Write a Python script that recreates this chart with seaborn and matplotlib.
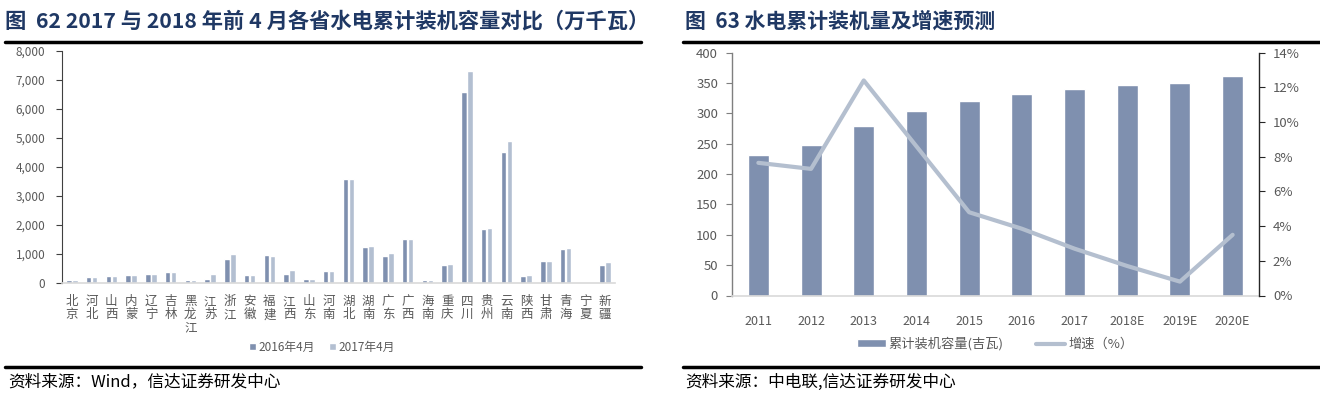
import numpy as np
import pandas as pd
import seaborn as sns
import matplotlib.pyplot as plt
from matplotlib.patches import Patch
from matplotlib.lines import Line2D
from matplotlib.ticker import FuncFormatter, PercentFormatter

sns.set_theme(style="white")
plt.rcParams['font.family'] = ['Noto Sans CJK SC', 'DejaVu Sans']

# ---- data: left panel ----
provinces = ['北京', '河北', '山西', '内蒙', '辽宁', '吉林', '黑龙江', '江苏', '浙江', '安徽',
             '福建', '江西', '山东', '河南', '湖北', '湖南', '广东', '广西', '海南', '重庆',
             '四川', '贵州', '云南', '陕西', '甘肃', '青海', '宁夏', '新疆']
cap_2016 = [100, 180, 240, 260, 290, 380, 100, 120, 810, 260,
            950, 310, 110, 400, 3580, 1240, 910, 1500, 70, 620,
            6580, 1860, 4520, 220, 750, 1150, 30, 620]
cap_2017 = [100, 180, 240, 260, 290, 380, 100, 290, 980, 260,
            920, 430, 110, 400, 3580, 1270, 1020, 1500, 100, 640,
            7310, 1900, 4890, 270, 760, 1190, 30, 700]
series_left = ['2016年4月', '2017年4月']

# ---- data: right panel ----
years = ['2011', '2012', '2013', '2014', '2015', '2016', '2017', '2018E', '2019E', '2020E']
capacity = [231, 248, 280, 304, 320, 332, 340, 347, 350, 362]
growth = [7.65, 7.3, 12.4, 8.6, 4.8, 3.85, 2.7, 1.7, 0.8, 3.5]

c_dark = '#7F90AF'
c_light = '#B3BFD1'
c_line = '#B4BFCF'
c_title = '#1F3864'
c_tick = '#595959'

fig = plt.figure(figsize=(13.2, 3.94), dpi=100)
W, H = 1320, 394


def px_axes(x0, y0, x1, y1):
    return fig.add_axes([x0 / W, 1 - y1 / H, (x1 - x0) / W, (y1 - y0) / H])


# ---------- left chart ----------
df_left = pd.DataFrame({
    '省份': provinces * 2,
    '容量': cap_2016 + cap_2017,
    '时间': [series_left[0]] * len(provinces) + [series_left[1]] * len(provinces),
})
ax1 = px_axes(62, 51, 615, 282.5)
sns.barplot(data=df_left, x='省份', y='容量', hue='时间', palette=[c_dark, c_light],
            saturation=1, width=0.62, gap=0.12, ax=ax1, legend=False)
ax1.set_xlim(-0.5, 27.5)
ax1.set_ylim(0, 8000)
ax1.set_yticks(range(0, 8001, 1000))
ax1.yaxis.set_major_formatter(FuncFormatter(lambda v, p: f'{int(v):,}'))
ax1.set_xticks(range(len(provinces)))
ax1.set_xticklabels(['\n'.join(p) for p in provinces], linespacing=1.02)
ax1.set_xlabel('')
ax1.set_ylabel('')
for s in ['top', 'right']:
    ax1.spines[s].set_visible(False)
ax1.spines['left'].set_color('#404040')
ax1.spines['left'].set_linewidth(0.8)
ax1.spines['bottom'].set_color('#D9D9D9')
ax1.spines['bottom'].set_linewidth(1.2)
ax1.tick_params(axis='y', left=True, length=4, width=0.8, color='#404040',
                labelsize=8.5, labelcolor=c_tick, pad=8)
ax1.tick_params(axis='x', bottom=False, labelsize=9, labelcolor=c_tick, pad=3)

leg1 = [Patch(facecolor=c_dark, label=series_left[0]),
        Patch(facecolor=c_light, label=series_left[1])]
fig.legend(handles=leg1, loc='center', bbox_to_anchor=(322 / W, 1 - 347 / H), ncol=2,
           frameon=False, fontsize=8.5, handlelength=0.6, handleheight=0.6,
           handletextpad=0.2, columnspacing=1.2, labelcolor=c_tick)

# ---------- right chart ----------
df_right = pd.DataFrame({'年份': years, '容量': capacity, '增速': growth,
                         'pos': np.arange(len(years))})
ax2 = px_axes(732, 52.7, 1259, 295.5)
sns.barplot(data=df_right, x='年份', y='容量', color=c_dark, saturation=1,
            width=0.4, ax=ax2)
ax2.set_xlim(-0.5, len(years) - 0.5)
ax2.set_ylim(0, 400)
ax2.set_yticks(range(0, 401, 50))
ax2.set_xlabel('')
ax2.set_ylabel('')
ax2.spines['top'].set_visible(False)
ax2.spines['right'].set_visible(False)
ax2.spines['left'].set_color('#7F7F7F')
ax2.spines['left'].set_linewidth(1.0)
ax2.spines['bottom'].set_color('#D9D9D9')
ax2.spines['bottom'].set_linewidth(1.2)
ax2.tick_params(axis='y', left=True, length=4, width=0.8, color='#7F7F7F',
                labelsize=9.5, labelcolor=c_tick, pad=6)
ax2.tick_params(axis='x', bottom=False, labelsize=9, labelcolor=c_tick, pad=8)

ax3 = ax2.twinx()
sns.lineplot(data=df_right, x='pos', y='增速', color=c_line, linewidth=3, ax=ax3)
ax3.set_ylim(0, 14)
ax3.set_yticks(range(0, 15, 2))
ax3.yaxis.set_major_formatter(PercentFormatter(decimals=0))
ax3.set_ylabel('')
ax3.set_xlabel('')
ax3.grid(False)
for s in ['top', 'left', 'bottom']:
    ax3.spines[s].set_visible(False)
ax3.spines['right'].set_color('#262626')
ax3.spines['right'].set_linewidth(1.0)
ax3.tick_params(axis='y', right=True, length=4, width=0.8, color='#262626',
                labelsize=9.5, labelcolor=c_tick, pad=6)
ax3.set_xlim(-0.5, len(years) - 0.5)

leg2 = [Patch(facecolor=c_dark, label='累计装机容量(吉瓦)'),
        Line2D([0], [0], color=c_line, lw=3, label='增速（%）')]
fig.legend(handles=leg2, loc='center', bbox_to_anchor=(995 / W, 1 - 344 / H), ncol=2,
           frameon=False, fontsize=9.5, handlelength=2.2, handleheight=0.5,
           handletextpad=0.2, columnspacing=2.5, labelcolor=c_tick)

# ---------- titles, rules, sources ----------
fig.text(5 / W, 1 - 21 / H, '图  62 2017 与 2018 年前 4 月各省水电累计装机容量对比（万千瓦）',
         fontsize=15.3, fontweight='bold', color=c_title, va='center', ha='left')
fig.text(685 / W, 1 - 21 / H, '图  63 水电累计装机量及增速预测',
         fontsize=15, fontweight='bold', color=c_title, va='center', ha='left')

for x0, x1 in [(5, 641), (683, 1320)]:
    for y in (42, 367):
        fig.add_artist(Line2D([x0 / W, x1 / W], [1 - y / H, 1 - y / H],
                              color='black', lw=2.5, transform=fig.transFigure))

fig.text(8 / W, 1 - 382 / H, '资料来源：Wind，信达证券研发中心',
         fontsize=12, style='italic', color='black', va='center', ha='left')
fig.text(685 / W, 1 - 382 / H, '资料来源：中电联,信达证券研发中心',
         fontsize=12, style='italic', color='black', va='center', ha='left')

fig.savefig('out.png', dpi=100)
